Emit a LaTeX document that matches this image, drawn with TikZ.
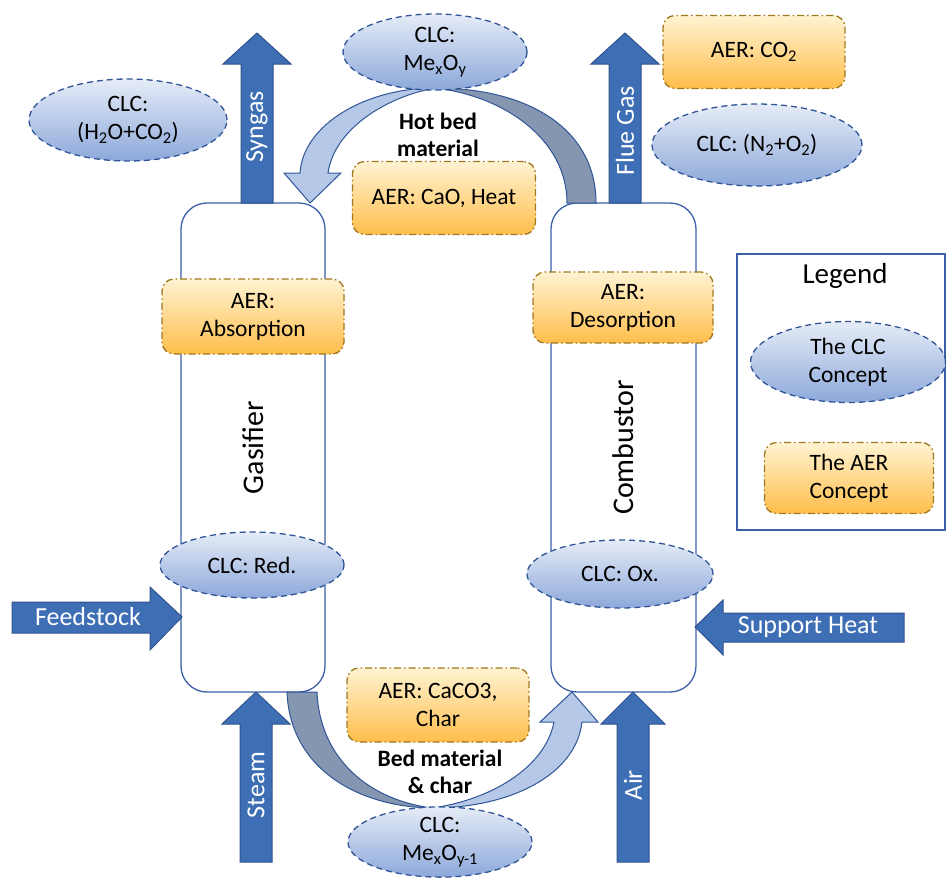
\documentclass[tikz,border=0pt]{standalone}
\usepackage{fontspec}
\setmainfont{Carlito}
\usetikzlibrary{shapes.geometric}

\definecolor{flowblue}{RGB}{62,111,180}
\definecolor{flowedge}{RGB}{47,82,143}
\definecolor{clcline}{RGB}{47,85,151}
\definecolor{clctop}{RGB}{230,236,247}
\definecolor{clcbot}{RGB}{140,168,218}
\definecolor{aerline}{RGB}{160,120,30}
\definecolor{aertop}{RGB}{255,243,210}
\definecolor{aerbot}{RGB}{255,190,75}
\definecolor{bandgray}{RGB}{132,150,176}
\definecolor{bandblue}{RGB}{182,200,231}
\definecolor{boxline}{RGB}{60,95,170}

\tikzset{
  txt/.style={font=\fontsize{23.5}{28}\selectfont, align=center},
  clc/.style={txt, ellipse, draw=clcline, line width=1.3pt, dash pattern=on 6pt off 4pt,
    top color=clctop, bottom color=clcbot, inner sep=0pt},
  aer/.style={txt, rectangle, rounded corners=12pt, draw=aerline, line width=1.3pt,
    dash pattern=on 7pt off 3pt on 1.5pt off 3pt, top color=aertop, bottom color=aerbot, inner sep=0pt},
  reactor/.style={draw=boxline, line width=1.3pt, fill=white, rounded corners=26pt,
    font=\fontsize{30}{36}\selectfont},
  flow/.style={fill=flowblue, draw=flowedge, line width=1pt},
  flowtext/.style={text=white, font=\fontsize{26}{30}\selectfont, inner sep=0pt},
  bandg/.style={fill=bandgray, draw=clcline, line width=1pt},
  bandb/.style={fill=bandblue, draw=clcline, line width=1pt},
  boldtxt/.style={font=\fontsize{23.5}{27}\selectfont\bfseries, align=center}
}

\begin{document}
\begin{tikzpicture}[x=1pt,y=-1pt]
\useasboundingbox (0,0) rectangle (947,879);

% reactors
\node[reactor, rotate=90, minimum width=489pt, minimum height=144pt] (gas) at (253,447.5) {Gasifier};
\node[reactor, rotate=90, minimum width=489pt, minimum height=145pt] (comb) at (623.5,447.5) {Combustor};

% hot bed material loop (top)
\draw[bandg] (596,203) .. controls (596,130) and (530,88) .. (435,88)
  .. controls (505,96) and (567,140) .. (567,203) -- cycle;
\draw[bandb] (435,88) .. controls (365,88) and (303,125) .. (300,173) -- (284,173) -- (310,203)
  -- (341,173) -- (328,173) .. controls (334,130) and (385,97) .. (435,88) -- cycle;
\node[boldtxt] (hotbed) at (438,135) {Hot bed\\material};

% bed material loop (bottom)
\draw[bandg] (287,692) .. controls (290,770) and (360,807) .. (432,808)
  .. controls (370,800) and (320,760) .. (317,692) -- cycle;
\draw[bandb] (432,808) .. controls (510,808) and (576,775) .. (582,722) -- (598,722) -- (572,692)
  -- (540,722) -- (554,722) .. controls (545,768) and (490,800) .. (432,808) -- cycle;
\node[boldtxt] (bedchar) at (440,772) {Bed material\\\& char};

% streams in and out
\draw[flow] (241,203) -- (241,64) -- (223,64) -- (257,33) -- (291,64) -- (273,64) -- (273,203) -- cycle;
\node[flowtext, rotate=90] (syngas) at (257,127) {Syngas};
\draw[flow] (609,203) -- (609,64) -- (591,64) -- (625,33) -- (659,64) -- (641,64) -- (641,203) -- cycle;
\node[flowtext, rotate=90] (flue) at (625,131) {Flue Gas};
\draw[flow] (240,862) -- (240,724) -- (222,724) -- (256,692) -- (290,724) -- (272,724) -- (272,862) -- cycle;
\node[flowtext, rotate=90] (steam) at (256,785) {Steam};
\draw[flow] (617,862) -- (617,724) -- (601,724) -- (633,692) -- (665,724) -- (649,724) -- (649,862) -- cycle;
\node[flowtext, rotate=90] (air) at (633,785) {Air};
\draw[flow] (12,602) -- (150,602) -- (150,587) -- (182,617) -- (150,650) -- (150,633) -- (12,633) -- cycle;
\node[flowtext] (feed) at (88,617) {Feedstock};
\draw[flow] (904,613) -- (723,613) -- (723,600) -- (695,627) -- (723,655) -- (723,642) -- (904,642) -- cycle;
\node[flowtext] (heat) at (808,627) {Support Heat};

% CLC concept
\node[clc, minimum width=184pt, minimum height=76pt] (mexoy) at (435,52) {CLC:\\Me\textsubscript{x}O\textsubscript{y}};
\node[clc, minimum width=198pt, minimum height=82pt] (h2o) at (128,120) {CLC:\\(H\textsubscript{2}O+CO\textsubscript{2})};
\node[clc, minimum width=210pt, minimum height=82pt] (n2o2) at (757,145) {CLC: (N\textsubscript{2}+O\textsubscript{2})};
\node[clc, minimum width=184pt, minimum height=66pt] (red) at (252,565) {CLC: Red.};
\node[clc, minimum width=186pt, minimum height=68pt] (ox) at (620,574) {CLC: Ox.};
\node[clc, minimum width=184pt, minimum height=70pt] (mexoy1) at (440,842) {CLC:\\Me\textsubscript{x}O\textsubscript{y-1}};

% AER concept
\node[aer, minimum width=182pt, minimum height=73pt] (co2) at (754,52) {AER: CO\textsubscript{2}};
\node[aer, minimum width=183pt, minimum height=73pt] (cao) at (444,198) {AER: CaO, Heat};
\node[aer, minimum width=182pt, minimum height=75pt] (abs) at (253,316.5) {AER:\\Absorption};
\node[aer, minimum width=180pt, minimum height=71pt] (des) at (623,307.5) {AER:\\Desorption};
\node[aer, minimum width=182pt, minimum height=74pt] (caco3) at (438,705) {AER: CaCO3,\\Char};

% legend
\node[draw=boxline, line width=1.3pt, minimum width=208pt, minimum height=276pt, inner sep=0pt] (legend) at (841,392) {};
\node[font=\fontsize{29}{34}\selectfont] (legtitle) at (845,276) {Legend};
\node[clc, minimum width=195pt, minimum height=81pt] (legclc) at (848,362) {The CLC\\Concept};
\node[aer, minimum width=169pt, minimum height=71pt] (legaer) at (849,478) {The AER\\Concept};
\end{tikzpicture}
\end{document}
